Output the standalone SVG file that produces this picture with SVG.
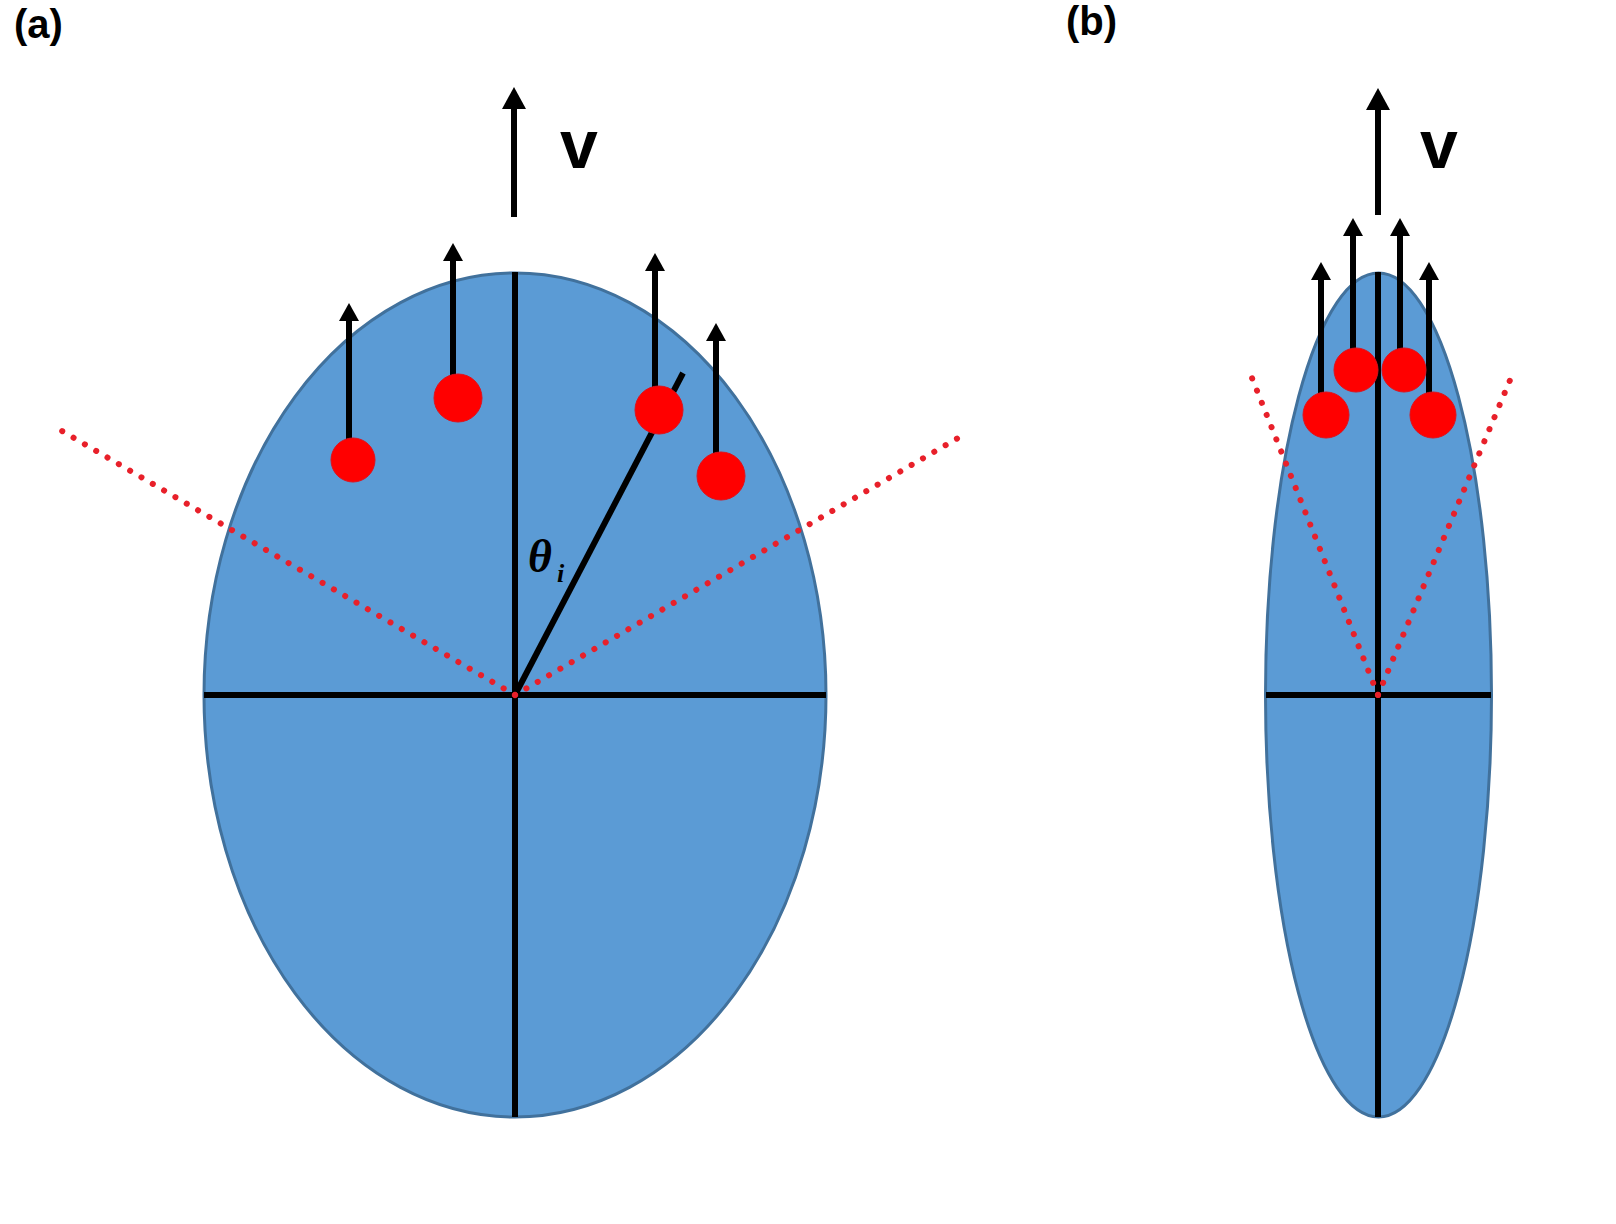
<svg xmlns="http://www.w3.org/2000/svg" width="1616" height="1224" viewBox="0 0 1616 1224">
<style>
.ell{fill:#5b9bd5;stroke:#41719c;stroke-width:3}
.ax{stroke:#000;stroke-width:6;fill:none}
.arr{stroke:#000;stroke-width:6;fill:none;marker-end:url(#ah)}
.arrL{stroke:#000;stroke-width:6;fill:none;marker-end:url(#ahL)}
.dot{fill:#ff0000;stroke:#e0101a;stroke-width:1}
.dash{stroke:#e8202a;stroke-width:6;stroke-linecap:round;stroke-dasharray:0.1 13;fill:none}
.lbl{font-family:"Liberation Sans",Arial,sans-serif;font-weight:bold;fill:#000}
</style>
<defs>
<marker id="ah" markerUnits="userSpaceOnUse" markerWidth="20" markerHeight="20" viewBox="0 0 18 20" refX="2" refY="10" orient="auto"><path d="M0,0 L18,10 L0,20 z" fill="#000"/></marker>
<marker id="ahL" markerUnits="userSpaceOnUse" markerWidth="24" markerHeight="24" viewBox="0 0 22 24" refX="2" refY="12" orient="auto"><path d="M0,0 L22,12 L0,24 z" fill="#000"/></marker>
</defs>
<rect width="1616" height="1224" fill="#fff"/>
<text class="lbl" x="14" y="38" font-size="40">(a)</text>
<text class="lbl" x="1066" y="35" font-size="40">(b)</text>

<g id="panel-a">
<ellipse class="ell" cx="515" cy="695" rx="311" ry="422"/>
<line class="ax" x1="204" y1="695" x2="826" y2="695"/>
<line class="ax" x1="515" y1="272" x2="515" y2="1117"/>
<line class="ax" x1="515" y1="695" x2="683" y2="373"/>
<line class="dash" x1="515" y1="695" x2="62" y2="431"/>
<line class="dash" x1="515" y1="695" x2="958" y2="438"/>
<line class="arrL" x1="514" y1="217" x2="514" y2="107"/>
<text class="lbl" x="560" y="168" font-size="68">v</text>
<text x="528" y="572" font-family="'Liberation Serif','DejaVu Serif',serif" font-style="italic" font-weight="bold" font-size="46" fill="#000">θ</text>
<text x="557" y="582" font-family="'Liberation Serif','DejaVu Serif',serif" font-style="italic" font-weight="bold" font-size="26" fill="#000">i</text>
<g id="p-a1"><line class="arr" x1="349" y1="440" x2="349" y2="319"/><circle class="dot" cx="353" cy="460" r="22"/></g>
<g id="p-a2"><line class="arr" x1="453" y1="380" x2="453" y2="259"/><circle class="dot" cx="458" cy="398" r="24"/></g>
<g id="p-a3"><line class="arr" x1="655" y1="390" x2="655" y2="269"/><circle class="dot" cx="659" cy="410" r="24"/></g>
<g id="p-a4"><line class="arr" x1="716" y1="460" x2="716" y2="339"/><circle class="dot" cx="721" cy="476" r="24"/></g>
</g>

<g id="panel-b">
<ellipse class="ell" cx="1378.5" cy="695" rx="113" ry="422"/>
<line class="ax" x1="1266" y1="695" x2="1491" y2="695"/>
<line class="ax" x1="1378" y1="272" x2="1378" y2="1117"/>
<line class="dash" x1="1378" y1="695" x2="1250" y2="373"/>
<line class="dash" x1="1378" y1="695" x2="1513" y2="373"/>
<line class="arrL" x1="1378" y1="215" x2="1378" y2="108"/>
<text class="lbl" x="1420" y="168" font-size="68">v</text>
<g id="p-b1"><line class="arr" x1="1321" y1="395" x2="1321" y2="278"/><circle class="dot" cx="1326" cy="415" r="23"/></g>
<g id="p-b4"><line class="arr" x1="1429" y1="395" x2="1429" y2="278"/><circle class="dot" cx="1433" cy="415" r="23"/></g>
<g id="p-b2"><line class="arr" x1="1353" y1="352" x2="1353" y2="234"/><circle class="dot" cx="1356" cy="370" r="22"/></g>
<g id="p-b3"><line class="arr" x1="1400" y1="352" x2="1400" y2="234"/><circle class="dot" cx="1404" cy="370" r="22"/></g>
</g>
</svg>
